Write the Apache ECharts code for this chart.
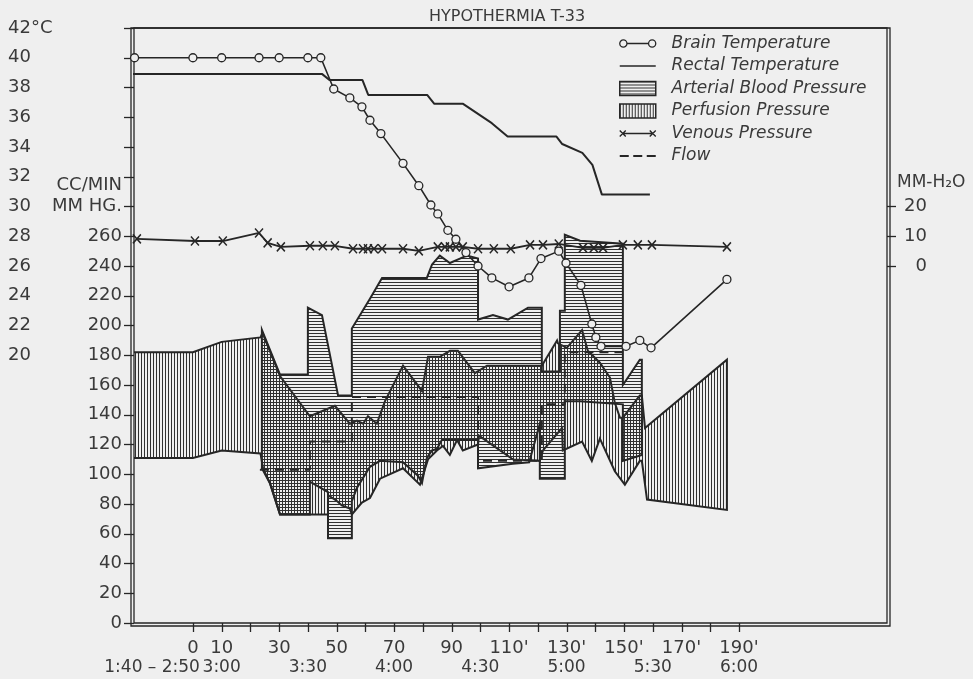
<!DOCTYPE html>
<html><head><meta charset="utf-8">
<script src="https://cdn.jsdelivr.net/npm/echarts@6/dist/echarts.min.js"></script>
<style>html,body{margin:0;padding:0;background:#efefef}#c{width:973px;height:679px}</style>
</head><body><div id="c"></div>
<script>
// ---------- tick / label lists ----------
const xTickValues = [0,10,20,30,40,50,60,70,80,90,100,110,120,130,140,150,160,170,180,190];
const minuteLabelValues = [0,10,30,50,70,90,110,130,150,170,190];
const minuteLabelTexts = ['0','10','30','50','70','90',"110'","130'","150'","170'","190'"];
const clockLabelValues = [-14.2,10,40,70,100,130,160,190];
const clockLabelTexts = ['1:40 \u2013 2:50','3:00','3:30','4:00','4:30','5:00','5:30','6:00'];
const pressureTickValues = [0,20,40,60,80,100,120,140,160,180,200,220,240,260,280,300,320,340,360,380,400];
const pressureLabelValues = [0,20,40,60,80,100,120,140,160,180,200,220,240,260,280,294];
const pressureLabelTexts = ['0','20','40','60','80','100','120','140','160','180','200','220','240','260','MM HG.','CC/MIN'];
const tempLabelValues = [20,22,24,26,28,30,32,34,36,38,40,42];
const tempLabelTexts = ['20','22','24','26','28','30','32','34','36','38','40','42°C'];
const venousTickValues = [0,10,20];
const venousLabelValues = [0,10,20,28];
const venousLabelTexts = ['0','10','20','MM-H\u2082O'];

// ---------- series values: [minute, value] ----------
const brainTemp = [[-20.3,40],[0,40],[10,40],[23,40],[30,40],[40,40],[44.5,40],[49,37.9],[54.6,37.3],[58.8,36.7],[61.6,35.8],[65.4,34.9],[73.1,32.9],[78.6,31.4],[82.8,30.1],[85.2,29.5],[88.7,28.4],[91.5,27.8],[95,26.9],[99.2,26],[104,25.2],[110,24.6],[116.9,25.2],[121.1,26.5],[127.3,27],[129.8,26.2],[135,24.7],[138.8,22.1],[140.2,21.2],[142,20.6],[150.7,20.6],[155.5,21],[159.4,20.5],[185.8,25.1]];
const rectalTemp = [[-21,38.9],[45,38.9],[47.5,38.5],[59,38.5],[61,37.5],[81.5,37.5],[84,36.9],[94,36.9],[104,35.6],[109.5,34.7],[126.5,34.7],[128.5,34.2],[135.5,33.6],[139,32.8],[142.3,30.8],[159,30.8]];
const venousPressure = [[-19.5,9.1],[0.7,8.4],[10.4,8.4],[23,11.1],[26,7.8],[30.6,6.4],[40.7,6.8],[45.2,6.8],[49.4,6.8],[55.7,5.8],[59.2,5.8],[60.9,5.8],[63,5.8],[65.8,5.8],[73.1,5.8],[78.6,5.1],[85.2,6.4],[87.7,6.4],[89.4,6.4],[91.5,6.4],[93.9,6.4],[99.2,5.8],[104.7,5.8],[110.6,5.8],[117.3,7.1],[121.8,7.1],[127.3,7.4],[135.7,6.1],[139.5,6.1],[142.7,6.1],[149.6,7.1],[154.8,7.1],[159.7,7.1],[185.8,6.4]];
const flow = [[23.3,103],[40.7,103],[40.7,122],[55.3,122],[55.3,152],[99.2,152],[99.2,109],[121.4,109],[121.4,147],[129.4,147],[129.4,182],[149.6,182]];
const perfusionUpper = [[-21,182],[0,182],[10,189],[23.5,192],[24.2,195],[30.3,166],[40.7,139],[49.4,146],[54.6,134],[57.1,136],[59.2,134],[60.9,139],[64,134],[66.8,149],[73.1,173],[79.7,156],[81.8,179],[85.9,179],[89.4,183],[92.2,183],[98.1,168],[102.3,173],[110.3,173],[121.4,173],[126.7,190],[127,188],[130.1,185],[135.4,197],[137.4,183],[141.6,175],[145.1,165],[146.8,148],[148.6,138],[149.6,138],[155.5,153],[156.2,153],[157.3,131],[185.8,177]];
const perfusionLower = [[-21,111],[0,111],[10,116],[23.5,114],[24.4,104],[26.8,94],[30.3,73],[47,73],[47,86],[50.1,82],[51.8,79],[54.6,77],[55.3,73],[58.8,81],[61.6,84],[65.1,97],[73.1,104],[79,93],[81.8,110],[84.9,116],[87,119],[89.4,113],[91.9,123],[93.9,116],[99.2,120],[99.5,126],[111.3,110],[120.7,109],[121.8,116],[128.4,131],[128.7,116],[135.4,122],[138.8,109],[141.6,124],[146.8,102],[150.3,93],[155.5,109],[156.2,109],[158,83],[185.8,76]];
const arterialUpper = [[24,197],[30.3,167],[40,167],[40,212],[44.9,207],[50.5,153],[55.3,153],[55.3,198],[61.6,218],[65.8,232],[81.4,232],[83.2,241],[85.9,247],[89.4,242],[92.9,245],[95.3,247],[99.2,245],[99.2,204],[104.4,207],[109.6,204],[116.6,212],[121.4,212],[121.4,169],[127.7,169],[127.7,210],[129.4,210],[129.4,261],[134.7,257],[149.6,255],[149.6,160],[155.5,177],[156.2,177]];
const arterialLower = [[24,104],[26.8,94],[30.3,73],[40.7,73],[40.7,95],[47,88],[47,57],[55.3,57],[55.3,82],[57.1,91],[61.6,105],[65.1,109],[73.1,108],[78.3,99],[79.7,94],[81.4,111],[83.2,116],[84.9,117],[86.6,123],[99.2,123],[99.2,104],[111.3,107],[117,108],[120.7,134],[120.7,97],[129.4,97],[129.4,149],[134.7,149],[149.6,147],[149.6,109],[156.2,113]];

// ---------- styling helpers ----------
const INK = '#262626';
const TXT = '#3a3a3a';
const FONT = 'DejaVu Sans';
function hatch(dir) {
  const c = document.createElement('canvas');
  c.width = 3; c.height = 3;
  const g = c.getContext('2d');
  g.fillStyle = '#303030';
  if (dir === 'h') g.fillRect(0, 0, 3, 1); else g.fillRect(0, 0, 1, 3);
  return { image: c, repeat: 'repeat' };
}
const hPattern = hatch('h');
const vPattern = hatch('v');
function lookup(values, texts) {
  return function (v) { const i = values.findIndex(x => Math.abs(x - v) < 1e-6); return i < 0 ? '' : texts[i]; };
}
function band(name, upper, lower, pattern) {
  return {
    type: 'custom', name: name, coordinateSystem: 'cartesian2d', xAxisIndex: 0, yAxisIndex: 0,
    data: [[upper[0][0], upper[0][1]]], z: 2, clip: true, silent: true,
    itemStyle: { color: pattern },
    renderItem: function (params, api) {
      const pts = upper.map(p => api.coord(p)).concat(lower.slice().reverse().map(p => api.coord(p)));
      return { type: 'polygon', shape: { points: pts }, style: { fill: pattern, stroke: INK, lineWidth: 2, lineJoin: 'miter' } };
    }
  };
}

const chart = echarts.init(document.getElementById('c'), null, { renderer: 'canvas' });
chart.setOption({
  animation: false,
  backgroundColor: '#efefef',
  textStyle: { fontFamily: FONT },
  title: { text: 'HYPOTHERMIA T-33', left: 424, top: 4, textStyle: { fontFamily: FONT, fontSize: 16, fontWeight: 'normal', color: TXT } },
  legend: {
    orient: 'vertical', left: 614, top: 30, itemWidth: 36, itemHeight: 14, itemGap: 5.5,
    selectedMode: false,
    formatter: n => '  ' + n,
    textStyle: { fontFamily: FONT, fontStyle: 'italic', fontSize: 17, color: TXT },
    data: [
      { name: 'Brain Temperature', icon: 'path://M0.5,5 A3.5,3.5 0 1,0 7.5,5 A3.5,3.5 0 1,0 0.5,5 Z M7.5,5 L28.5,5 M28.5,5 A3.5,3.5 0 1,0 35.5,5 A3.5,3.5 0 1,0 28.5,5 Z', itemStyle: { color: 'rgba(0,0,0,0)', borderColor: INK, borderWidth: 1.3 } },
      { name: 'Rectal Temperature', icon: 'path://M0,0 L36,0 L36,1.6 L0,1.6 Z', itemStyle: { color: INK, borderWidth: 0 } },
      { name: 'Arterial Blood Pressure', icon: 'rect', itemStyle: { color: hPattern, borderColor: INK, borderWidth: 1.5 } },
      { name: 'Perfusion Pressure', icon: 'rect', itemStyle: { color: vPattern, borderColor: INK, borderWidth: 1.5 } },
      { name: 'Venous Pressure', icon: 'path://M0,1 L6,7 M0,7 L6,1 M3,4 L33,4 M30,1 L36,7 M30,7 L36,1', itemStyle: { color: 'rgba(0,0,0,0)', borderColor: INK, borderWidth: 1.4 } },
      { name: 'Flow', icon: 'path://M0,0 L9,0 L9,1.8 L0,1.8 Z M13.5,0 L22.5,0 L22.5,1.8 L13.5,1.8 Z M27,0 L36,0 L36,1.8 L27,1.8 Z', itemStyle: { color: INK, borderWidth: 0 } }
    ]
  },
  grid: [
    { left: 134, right: 86, top: 28, bottom: 56, show: true, borderColor: INK, borderWidth: 1.3, backgroundColor: 'transparent' },
    { left: 131, right: 83, top: 28, bottom: 53, show: true, borderColor: INK, borderWidth: 1.3, backgroundColor: 'transparent' }
  ],
  xAxis: [
    { type: 'value', gridIndex: 0, min: -20.5, max: 241.5, position: 'bottom',
      axisLine: { show: false, onZero: false }, splitLine: { show: false }, axisTick: { show: false },
      axisLabel: { customValues: minuteLabelValues, formatter: lookup(minuteLabelValues, minuteLabelTexts), showMinLabel: true, showMaxLabel: true, hideOverlap: false, margin: 16, fontSize: 18, color: TXT, fontFamily: FONT } },
    { type: 'value', gridIndex: 0, min: -20.5, max: 241.5, position: 'bottom',
      axisLine: { show: false, onZero: false }, splitLine: { show: false }, axisTick: { show: false },
      axisLabel: { customValues: clockLabelValues, formatter: lookup(clockLabelValues, clockLabelTexts), showMinLabel: true, showMaxLabel: true, hideOverlap: false, margin: 36, fontSize: 17, color: TXT, fontFamily: FONT } },
    { type: 'value', gridIndex: 1, show: false, min: 0, max: 1 }
  ],
  yAxis: [
    { type: 'value', gridIndex: 0, min: 0, max: 400, position: 'left',
      axisLine: { show: false, onZero: false }, splitLine: { show: false },
      axisTick: { show: true, inside: false, length: 10, customValues: pressureTickValues, lineStyle: { color: INK, width: 1.3 } },
      axisLabel: { customValues: pressureLabelValues, formatter: lookup(pressureLabelValues, pressureLabelTexts), showMinLabel: true, showMaxLabel: true, margin: 12, fontSize: 18, color: TXT, fontFamily: FONT } },
    { type: 'value', gridIndex: 0, min: 2, max: 42, position: 'left',
      axisLine: { show: false, onZero: false }, splitLine: { show: false }, axisTick: { show: false },
      axisLabel: { customValues: tempLabelValues, formatter: lookup(tempLabelValues, tempLabelTexts), showMinLabel: true, showMaxLabel: true, margin: 126, align: 'left', fontSize: 18, color: TXT, fontFamily: FONT } },
    { type: 'value', gridIndex: 0, min: -120, max: 80, position: 'right',
      axisLine: { show: false, onZero: false }, splitLine: { show: false },
      axisTick: { show: true, inside: false, length: 9, customValues: venousTickValues, lineStyle: { color: INK, width: 1.3 } },
      axisLabel: { customValues: venousLabelValues, showMinLabel: true, showMaxLabel: true, margin: 10, align: 'left', color: TXT, fontFamily: FONT,
        formatter: v => (Math.abs(v - 28) < 1e-6 ? '{u|' : '{n|') + lookup(venousLabelValues, venousLabelTexts)(v) + '}',
        rich: { n: { fontSize: 18, width: 30, align: 'right', color: TXT, fontFamily: FONT }, u: { fontSize: 17, color: TXT, fontFamily: FONT } } } },
    { type: 'value', gridIndex: 1, show: false, min: 0, max: 1 }
  ],
  series: [
    band('Perfusion Pressure', perfusionUpper, perfusionLower, vPattern),
    band('Arterial Blood Pressure', arterialUpper, arterialLower, hPattern),
    { name: 'Flow', type: 'line', xAxisIndex: 0, yAxisIndex: 0, data: flow, symbol: 'none', z: 4,
      lineStyle: { color: INK, width: 2, type: [9, 6] } },
    { name: 'Rectal Temperature', type: 'line', xAxisIndex: 0, yAxisIndex: 1, data: rectalTemp, symbol: 'none', z: 4,
      lineStyle: { color: INK, width: 2 } },
    { name: 'Venous Pressure', type: 'line', xAxisIndex: 0, yAxisIndex: 2, data: venousPressure, z: 5,
      symbol: 'path://M0,0 L10,10 M0,10 L10,0', symbolSize: [8, 9], symbolKeepAspect: false,
      itemStyle: { color: INK, borderColor: INK, borderWidth: 1.6 },
      lineStyle: { color: INK, width: 1.8 } },
    { name: 'Brain Temperature', type: 'line', xAxisIndex: 0, yAxisIndex: 1, data: brainTemp, z: 6,
      symbol: 'circle', symbolSize: 8,
      itemStyle: { color: '#efefef', borderColor: INK, borderWidth: 1.3 },
      lineStyle: { color: INK, width: 1.6 } },
    // bottom-axis tick marks at every 10 minutes, placed through the x scale
    { name: 'ticks', type: 'custom', coordinateSystem: 'cartesian2d', xAxisIndex: 0, yAxisIndex: 0,
      data: xTickValues.map(v => [v, 0]), clip: false, silent: true, z: 10,
      renderItem: function (params, api) {
        const p = api.coord([api.value(0), 0]);
        const x = Math.round(p[0]) + 0.5;
        return { type: 'line', shape: { x1: x, y1: p[1], x2: x, y2: p[1] + 9 }, style: { stroke: INK, lineWidth: 1.3 } };
      } }
  ]
});
</script></body></html>
